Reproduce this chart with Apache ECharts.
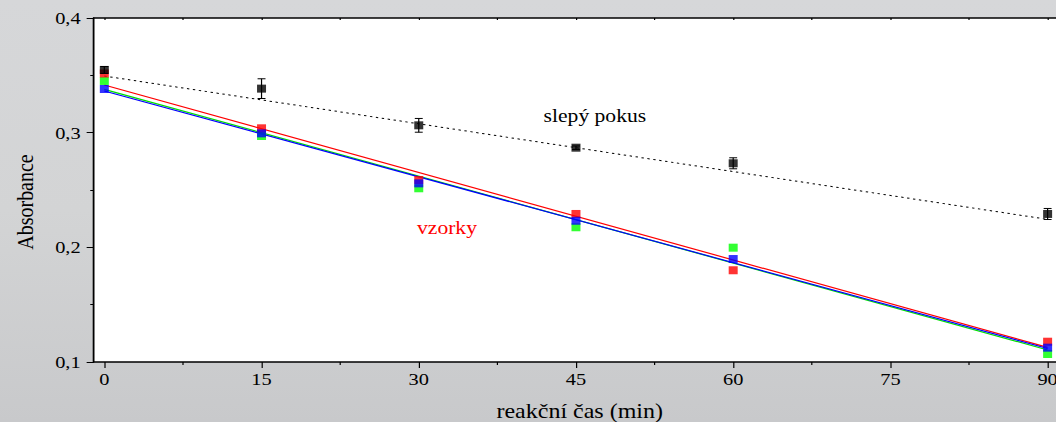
<!DOCTYPE html>
<html><head><meta charset="utf-8">
<script src="https://cdn.jsdelivr.net/npm/echarts@6/dist/echarts.min.js"></script>
<style>
html,body{margin:0;padding:0;overflow:hidden;background:#cfd0d2;}
#wrap{width:1056px;height:422px;overflow:hidden;position:relative;}
#chart{width:880px;height:422px;transform:scaleX(1.2);transform-origin:0 0;}
</style></head><body>
<div id="wrap"><div id="chart"></div></div>
<script>
// ---- data ----
const times = [0, 15, 30, 45, 60, 90];
const blank = [0.3547, 0.3384, 0.3064, 0.2869, 0.2733, 0.2291];
const blankErr = [0.003, 0.0086, 0.006, 0.0015, 0.0048, 0.0048];
const red = [0.3516, 0.3038, 0.2587, 0.2291, 0.1800, 0.1177];
const green = [0.3451, 0.2971, 0.2515, 0.2175, 0.1997, 0.1070];
const blue = [0.3381, 0.2994, 0.2558, 0.2232, 0.1898, 0.1125];
const fitX = [0, 90];
const blankFit = [0.3494, 0.2244];
const redFit = [0.3416, 0.1127];
const greenFit = [0.3378, 0.1105];
const blueFit = [0.3363, 0.1118];
const xMajor = [0, 15, 30, 45, 60, 75, 90];
const xMinor = [7.5, 22.5, 37.5, 52.5, 67.5, 82.5];
const xAll = [0, 7.5, 15, 22.5, 30, 37.5, 45, 52.5, 60, 67.5, 75, 82.5, 90];
const yName = 'Absorbance';
const xName = 'reakční čas (min)';
const blankLabel = 'slepý pokus';
const sampleLabel = 'vzorky';

const FONT = 'Liberation Serif, Times New Roman, serif';
const pts = (arr) => times.map((t, i) => [t, arr[i]]);
const fit = (arr) => fitX.map((t, i) => [t, arr[i]]);

const chart = echarts.init(document.getElementById('chart'), null, {renderer: 'svg'});
const sq = [7.5, 8];
const xBase = {type: 'value', min: -1, max: 90.8, splitLine: {show: false}};
chart.setOption({
  animation: false,
  backgroundColor: new echarts.graphic.LinearGradient(0, 0, 0, 1, [
    {offset: 0, color: '#d6d7d9'}, {offset: 0.5, color: '#d3d4d5'}, {offset: 1, color: '#c8c9cb'}
  ]),
  grid: {left: 78.2, top: 18, right: 0, height: 344, show: true, backgroundColor: '#ffffff', borderWidth: 0,
    containLabel: false, outerBoundsMode: 'none'},
  xAxis: [
    Object.assign({}, xBase, {
      position: 'bottom',
      axisLine: {show: true, onZero: false, lineStyle: {color: '#000', width: 1.5}},
      axisTick: {show: true, inside: false, length: 6, customValues: xMajor, lineStyle: {color: '#000', width: 1}},
      axisLabel: {show: true, customValues: xMajor, margin: 9, color: '#000', fontFamily: FONT, fontSize: 17},
      name: xName, nameLocation: 'middle', nameGap: 39,
      nameTextStyle: {color: '#000', fontFamily: FONT, fontSize: 20, padding: [0, 0, 0, 8]}
    }),
    Object.assign({}, xBase, {
      position: 'bottom',
      axisLine: {show: false, onZero: false},
      axisTick: {show: true, inside: false, length: 3, customValues: xMinor, lineStyle: {color: '#000', width: 1}},
      axisLabel: {show: false}
    }),
    Object.assign({}, xBase, {
      position: 'top',
      axisLine: {show: true, onZero: false, lineStyle: {color: '#000', width: 1.5}},
      axisTick: {show: true, inside: true, length: 2, customValues: xAll, lineStyle: {color: '#000', width: 1}},
      axisLabel: {show: false}
    })
  ],
  yAxis: {
    type: 'value', min: 0.1, max: 0.4, interval: 0.1,
    splitLine: {show: false},
    axisLine: {show: true, onZero: false, lineStyle: {color: '#000', width: 1.5}},
    axisTick: {show: true, inside: false, length: 6, lineStyle: {color: '#000', width: 1}},
    minorTick: {show: true, splitNumber: 2, length: 3, lineStyle: {color: '#000', width: 1}},
    axisLabel: {margin: 11, color: '#000', fontFamily: FONT, fontSize: 17,
      formatter: (v) => v.toFixed(1).replace('.', ',')}
  },
  graphic: [
    {type: 'text', x: 20.8, y: 202, rotation: Math.PI / 2,
      style: {text: yName, fill: '#000', fontFamily: FONT, fontSize: 20, align: 'center', verticalAlign: 'middle'}},
    {type: 'text', left: 453, top: 107, style: {text: blankLabel, fill: '#000', fontFamily: FONT, fontSize: 18}},
    {type: 'text', left: 347.5, top: 219, style: {text: sampleLabel, fill: '#ff0000', fontFamily: FONT, fontSize: 18}}
  ],
  series: [
    {type: 'line', data: fit(greenFit), showSymbol: false, lineStyle: {color: '#00e000', width: 1.2}, z: 2},
    {type: 'line', data: fit(redFit), showSymbol: false, lineStyle: {color: '#ff0000', width: 1.2}, z: 2},
    {type: 'line', data: fit(blueFit), showSymbol: false, lineStyle: {color: '#0000ff', width: 1.2}, z: 2},
    {type: 'line', data: fit(blankFit), showSymbol: false, lineStyle: {color: '#000', width: 1, type: [2, 3]}, z: 2},
    {type: 'scatter', data: pts(green), symbol: 'rect', symbolSize: sq, itemStyle: {color: '#00ff00'}, z: 3},
    {type: 'scatter', data: pts(red), symbol: 'rect', symbolSize: sq, itemStyle: {color: '#ff0000'}, z: 3},
    {type: 'scatter', data: pts(blue), symbol: 'rect', symbolSize: sq, itemStyle: {color: '#0000ff'}, z: 3},
    {type: 'custom', z: 4,
      data: times.map((t, i) => [t, blank[i], blankErr[i]]),
      renderItem: function (params, api) {
        const x = api.value(0), y = api.value(1), e = api.value(2);
        const t = api.coord([x, y + e]), b = api.coord([x, y - e]);
        const hw = 3.3;
        const st = {stroke: '#000', lineWidth: 1};
        return {type: 'group', children: [
          {type: 'line', shape: {x1: t[0], y1: t[1], x2: b[0], y2: b[1]}, style: st},
          {type: 'line', shape: {x1: t[0] - hw, y1: t[1], x2: t[0] + hw, y2: t[1]}, style: st},
          {type: 'line', shape: {x1: b[0] - hw, y1: b[1], x2: b[0] + hw, y2: b[1]}, style: st}
        ]};
      }
    },
    {type: 'scatter', data: pts(blank), symbol: 'rect', symbolSize: sq, itemStyle: {color: '#000'}, z: 5}
  ]
});
</script>
</body></html>
